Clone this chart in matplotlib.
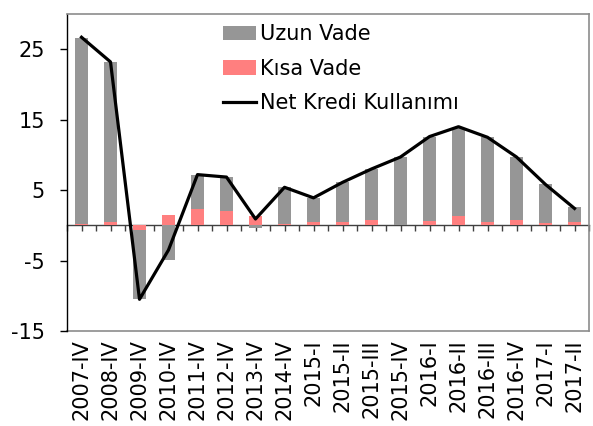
import matplotlib
matplotlib.use("Agg")
import matplotlib.pyplot as plt
import numpy as np

categories = ["2007-IV", "2008-IV", "2009-IV", "2010-IV", "2011-IV", "2012-IV",
              "2013-IV", "2014-IV", "2015-I", "2015-II", "2015-III", "2015-IV",
              "2016-I", "2016-II", "2016-III", "2016-IV", "2017-I", "2017-II"]
kisa_vade = [0.2, 0.5, -0.7, 1.4, 2.3, 2.1, 1.3, 0.2, 0.5, 0.5, 0.7, 0.1,
             0.55, 1.3, 0.5, 0.8, 0.3, 0.5]
uzun_vade = [26.4, 22.7, -9.7, -4.9, 4.9, 4.75, -0.4, 5.2, 3.4, 5.6, 7.3, 9.6,
             12.05, 12.5, 12.0, 8.9, 5.5, 2.1]
net_kredi = [26.7, 23.2, -10.5, -3.5, 7.2, 6.85, 0.9, 5.4, 3.9, 6.1, 8.0, 9.7,
             12.6, 14.0, 12.5, 9.7, 5.8, 2.4]
yticks = [-15, -5, 5, 15, 25]

plt.rcParams['font.family'] = ['DejaVu Sans']
FS = 15

fig = plt.figure(figsize=(5.93, 4.26), dpi=100)
ax = fig.add_axes([67/593, 1-331/426, 522/593, 317/426])

x = np.arange(len(categories))
kisa = np.array(kisa_vade)
uzun = np.array(uzun_vade)
# stacking: Kısa Vade nearest the axis, positives up, negatives down
uzun_bottom = np.where(np.sign(uzun) == np.sign(kisa), kisa, 0)
w = 0.44
h_k = ax.bar(x, kisa, width=w, color='#ff7f7f', label='Kısa Vade', zorder=2)
h_u = ax.bar(x, uzun, width=w, bottom=uzun_bottom, color='#969696', label='Uzun Vade', zorder=2)
h_n, = ax.plot(x, net_kredi, color='black', lw=2.3, label='Net Kredi Kullanımı', zorder=3)

ax.set_xlim(-0.5, len(categories) - 0.5)
ax.set_ylim(-15, 30)
ax.set_yticks(yticks)
ax.set_yticklabels([str(v) for v in yticks], fontsize=FS)
ax.tick_params(axis='y', direction='out', length=5, width=1, color='black', pad=11)

# zero axis with ticks
ax.spines['bottom'].set_position(('data', 0))
ax.spines['bottom'].set_color('#404040')
ax.spines['bottom'].set_linewidth(1.0)
ax.spines['bottom'].set_zorder(1)
ax.set_xticks(x)
ax.set_xticks(np.arange(len(categories) + 1) - 0.5, minor=True)
ax.tick_params(axis='x', which='both', direction='out', length=4, width=1,
               color='#404040', labelbottom=False)
ax.spines['left'].set_color('black')
ax.spines['left'].set_linewidth(1.0)
for s in ['top', 'right']:
    ax.spines[s].set_color('#8c8c8c')
    ax.spines[s].set_linewidth(1.2)

sec = ax.secondary_xaxis('bottom')
sec.set_xticks(x)
sec.set_xticklabels(categories, rotation=90, fontsize=FS, ha='center', va='top')
sec.tick_params(length=0, pad=6)
sec.spines['bottom'].set_color('#8c8c8c')
sec.spines['bottom'].set_linewidth(1.2)

ax.legend([h_u, h_k, h_n], ['Uzun Vade', 'Kısa Vade', 'Net Kredi Kullanımı'],
          loc='upper left', bbox_to_anchor=(0.298, 0.968), frameon=False,
          fontsize=FS, borderpad=0, borderaxespad=0, handlelength=1.6,
          handletextpad=0.2, labelspacing=0.7, handleheight=0.7)

fig.savefig('out.png', dpi=100)
